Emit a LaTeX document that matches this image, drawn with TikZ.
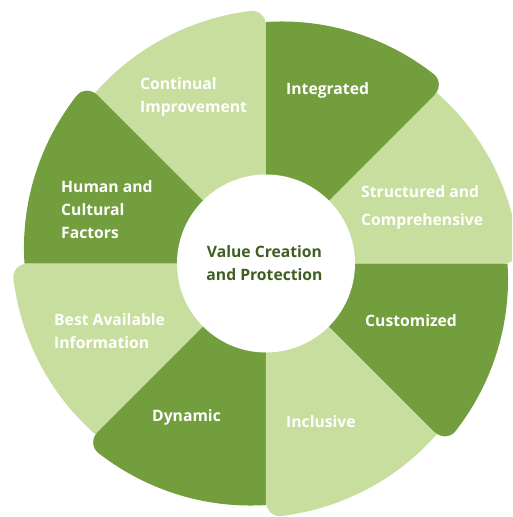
\documentclass[tikz,border=0pt]{standalone}
\usepackage{fontspec}
\setmainfont{Open Sans}[BoldFont={* Bold}]
\definecolor{darkg}{HTML}{739E3E}
\definecolor{lightg}{HTML}{C8DE9E}
\definecolor{textg}{HTML}{3F5F22}
\newcommand\Rone{254}
\newcommand\Rtwo{241.5}
\newcommand\rcorn{16}
\newcommand\dlt{3.6}
\newcommand\petal[3]{%
  \fill[#2] (0,0) -- (#1:\Rone-\rcorn) .. controls (#1:{\Rone-0.45*\rcorn}) and ({#1+0.45*\dlt}:\Rone) ..
    ({#1+\dlt}:{\Rone-(\Rone-\Rtwo)*\dlt/45})
    -- plot[domain={#1+\dlt}:{#1+45},samples=40,variable=\t]
       (\t:{\Rone-(\Rone-\Rtwo)*(\t-#1)/45}) -- cycle;
  \coordinate (#3) at ({#1+22.5}:170);}
\begin{document}
\begin{tikzpicture}[x=1pt,y=1pt,
  lab/.style={font=\bfseries\fontsize{15.7}{18}\selectfont, text=white, inner sep=0pt, anchor=base west},
  ctr/.style={font=\bfseries\fontsize{15.7}{18}\selectfont, text=textg, inner sep=0pt, anchor=base}]
\fill[white] (-266,-253.5) rectangle (246,263.5);
\clip (-266,-253.5) rectangle (246,263.5);
\petal{0}{lightg}{pS}
\petal{45}{darkg}{pI}
\petal{90}{lightg}{pC}
\petal{135}{darkg}{pH}
\petal{180}{lightg}{pB}
\petal{225}{darkg}{pD}
\petal{270}{lightg}{pN}
\petal{315}{darkg}{pU}
\node[circle, fill=white, minimum size=178pt, inner sep=0pt] (hub) at (0,0) {};
\node[ctr] (v1) at (-1.5,6.5) {Value Creation};
\node[ctr] (v2) at (-1.5,-16.5) {and Protection};
\node[lab] (integ) at (20,168.5) {Integrated};
\node[lab] (str1) at (95,66.5) {Structured and};
\node[lab] (str2) at (95,38.5) {Comprehensive};
\node[lab] (cust) at (99,-62.5) {Customized};
\node[lab] (incl) at (20,-163.5) {Inclusive};
\node[lab] (dyn) at (-114,-157.5) {Dynamic};
\node[lab] (best1) at (-212,-61.5) {Best Available};
\node[lab] (best2) at (-212,-84.5) {Information};
\node[lab] (hum1) at (-205,71.5) {Human and};
\node[lab] (hum2) at (-205,48.5) {Cultural};
\node[lab] (hum3) at (-205,25.5) {Factors};
\node[lab] (cont1) at (-126,174.5) {Continual};
\node[lab] (cont2) at (-126,151.5) {Improvement};
\end{tikzpicture}
\end{document}
